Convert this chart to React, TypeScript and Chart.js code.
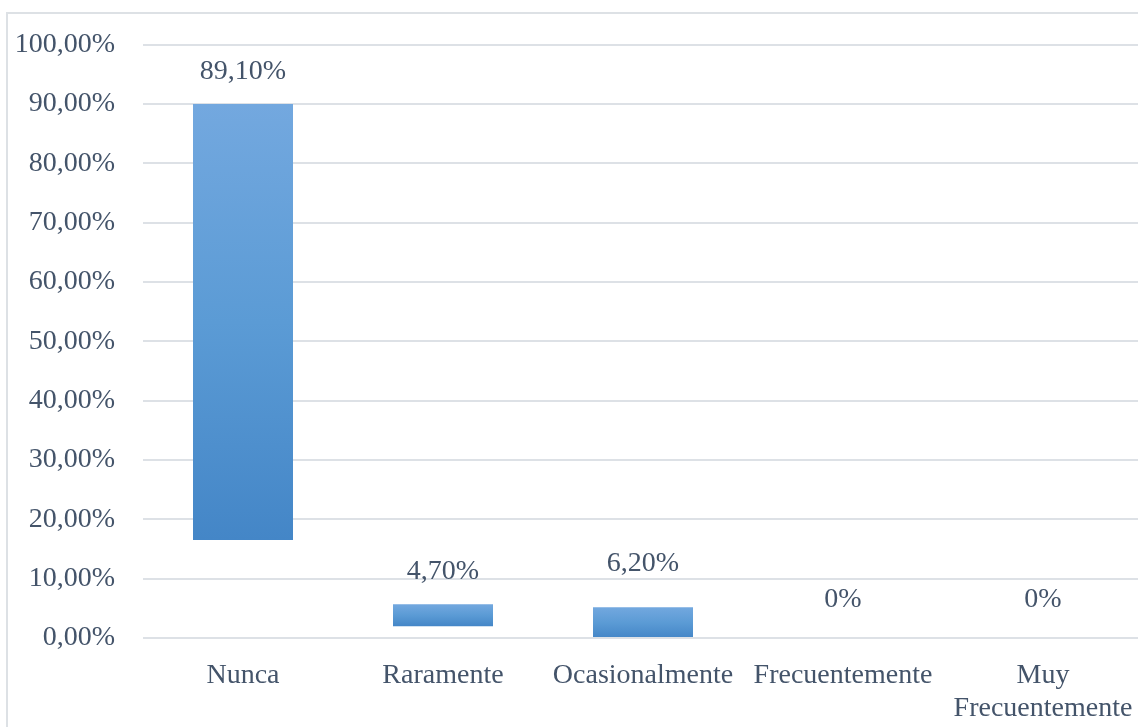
import React, { useEffect, useRef } from "react";
import { Chart, registerables } from "chart.js";

Chart.register(...registerables);

const categories: (string | string[])[] = [
  "Nunca",
  "Raramente",
  "Ocasionalmente",
  "Frecuentemente",
  ["Muy", "Frecuentemente"],
];
// reported percentages (data labels)
const values = [89.1, 4.7, 6.2, 0, 0];
const valueLabels = ["89,10%", "4,70%", "6,20%", "0%", "0%"];
// bar extents as drawn in the picture (floating bars)
const barStarts = [16.5, 2.0, 0, 0, 0];
const barEnds = [90, 5.7, 5.2, 0, 0];
const yTicks = [0, 10, 20, 30, 40, 50, 60, 70, 80, 90, 100];

const FONT = "'Liberation Serif', 'Times New Roman', serif";
const TEXT = "#44546A";

export default function App() {
  const ref = useRef<HTMLCanvasElement>(null);

  useEffect(() => {
    if (!ref.current) return;
    const labelPlugin = {
      id: "valueLabels",
      afterDatasetsDraw(chart: any) {
        const ctx = chart.ctx;
        const meta = chart.getDatasetMeta(0);
        const y = chart.scales.y;
        ctx.save();
        ctx.font = `28px ${FONT}`;
        ctx.fillStyle = TEXT;
        ctx.textAlign = "center";
        ctx.textBaseline = "middle";
        meta.data.forEach((bar: any, i: number) => {
          ctx.fillText(valueLabels[i], bar.x, y.getPixelForValue(values[i]) - 38);
        });
        ctx.restore();
      },
    };
    const chart = new Chart(ref.current, {
      type: "bar",
      data: {
        labels: categories as any,
        datasets: [
          {
            data: barStarts.map((s, i) => [s, barEnds[i]]) as any,
            backgroundColor: (c: any) => {
              const chartObj = c.chart;
              const ys = chartObj.scales?.y;
              const raw = c.raw;
              if (!ys || !raw || !chartObj.chartArea) return "#5B9BD5";
              const top = ys.getPixelForValue(raw[1]);
              const bot = ys.getPixelForValue(raw[0]);
              if (!isFinite(top) || !isFinite(bot) || bot - top < 1) return "#5B9BD5";
              const g = chartObj.ctx.createLinearGradient(0, top, 0, bot);
              g.addColorStop(0, "#73A8DF");
              g.addColorStop(0.5, "#5B9BD5");
              g.addColorStop(1, "#4486C7");
              return g;
            },
            borderWidth: 0,
            barPercentage: 0.5,
            categoryPercentage: 1,
          },
        ],
      },
      options: {
        responsive: false,
        animation: false,
        devicePixelRatio: 1,
        layout: { padding: { left: 0, top: 44, right: 7, bottom: 0 } },
        plugins: {
          legend: { display: false },
          tooltip: { enabled: false },
        },
        scales: {
          x: {
            grid: { display: false },
            border: { display: false },
            ticks: {
              color: TEXT,
              font: { family: FONT, size: 28, lineHeight: 1.18 },
              padding: 13,
              maxRotation: 0,
              autoSkip: false,
            },
            afterFit: (s: any) => {
              s.height = 89;
            },
          },
          y: {
            min: 0,
            max: 100,
            afterBuildTicks: (s: any) => {
              s.ticks = yTicks.map((v) => ({ value: v }));
            },
            grid: {
              color: "#DDE1E6",
              lineWidth: 2,
              drawTicks: false,
            },
            border: { display: false },
            ticks: {
              color: TEXT,
              font: { family: FONT, size: 28 },
              padding: 28,
              callback: (v: any) => `${Number(v).toFixed(2).replace(".", ",")}%`,
            },
            afterFit: (s: any) => {
              s.width = 143;
            },
          },
        },
      },
      plugins: [labelPlugin],
    });
    return () => chart.destroy();
  }, []);

  return (
    <div
      style={{
        position: "fixed",
        left: 0,
        top: 0,
        width: 1138,
        height: 727,
        overflow: "hidden",
        background: "#fff",
      }}
    >
      <div
        style={{
          position: "absolute",
          left: 6,
          top: 12,
          width: 1300,
          height: 900,
          border: "2px solid #DDE1E5",
        }}
      />
      <canvas
        ref={ref}
        width={1150}
        height={727}
        style={{ position: "absolute", left: 0, top: 0, display: "block" }}
      />
    </div>
  );
}
